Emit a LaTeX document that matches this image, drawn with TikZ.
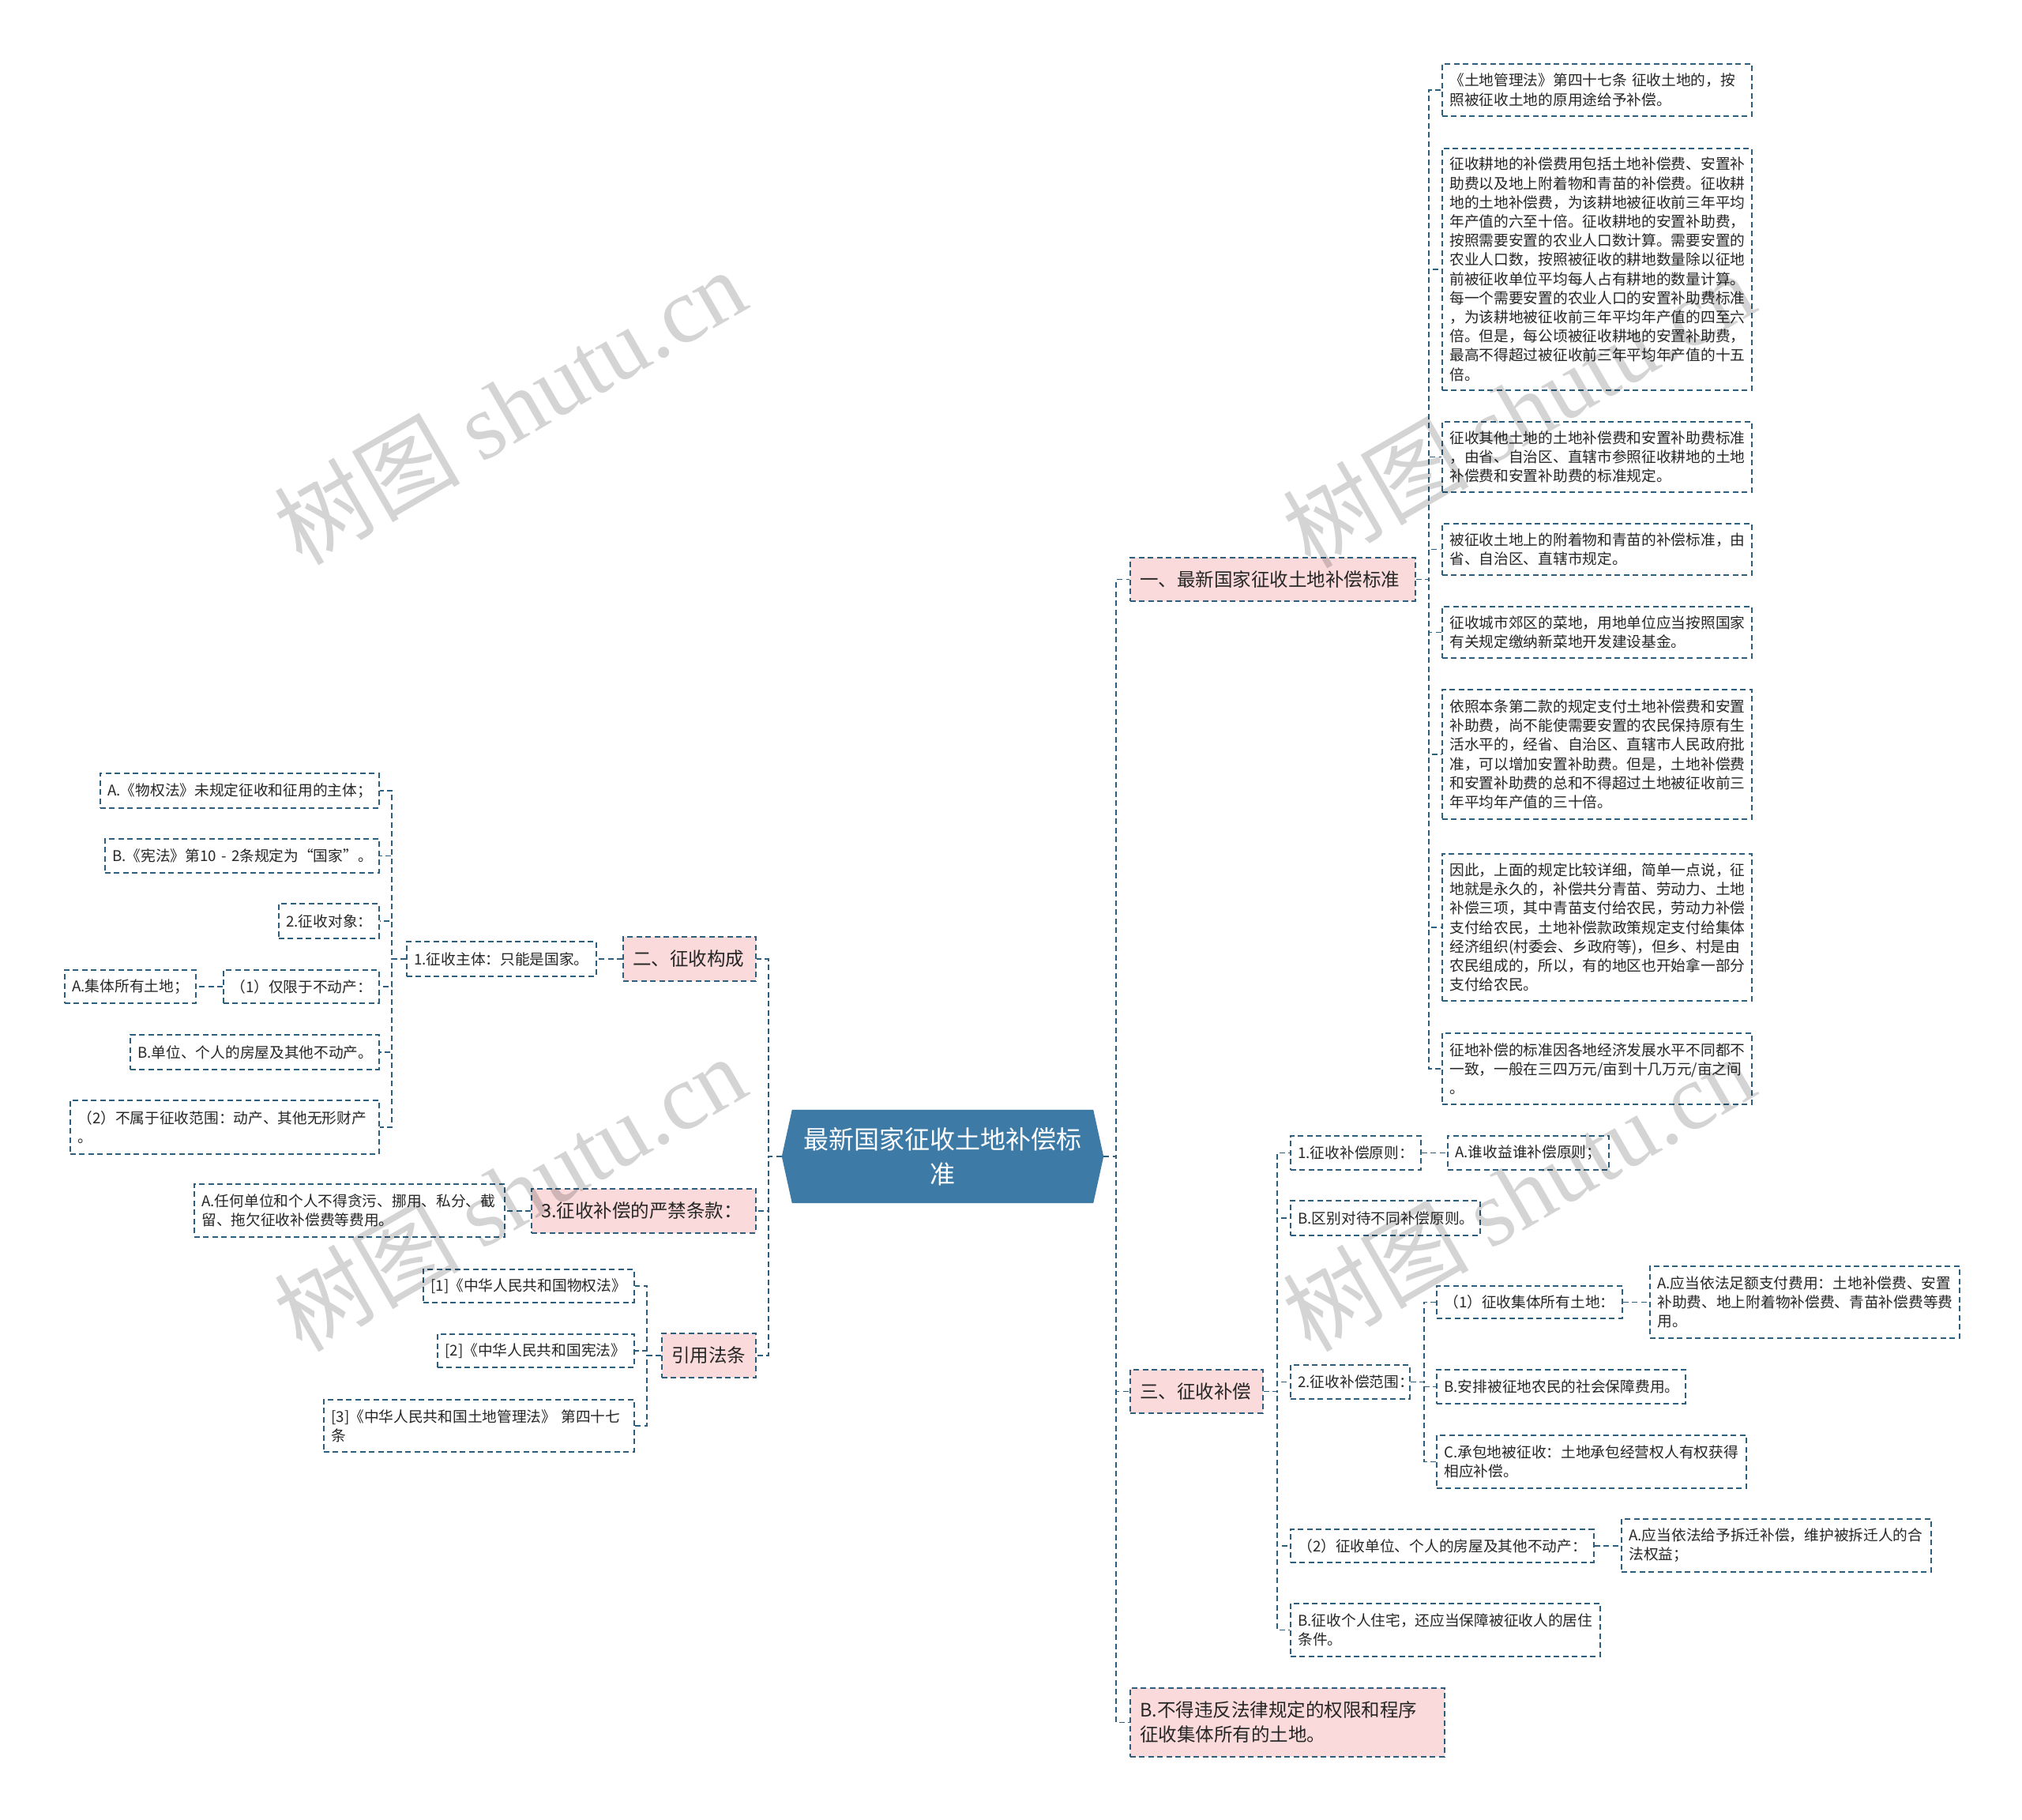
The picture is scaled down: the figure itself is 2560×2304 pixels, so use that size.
\documentclass[tikz,border=0pt]{standalone}
\usepackage{fontspec}
\setmainfont{Noto Sans CJK SC}
\newfontfamily\wmcjk{Noto Sans CJK SC}
\newfontfamily\wmlat{Liberation Serif}
\usetikzlibrary{backgrounds}
\definecolor{linec}{RGB}{46,94,125}
\definecolor{pinkc}{RGB}{250,218,218}
\definecolor{rootc}{RGB}{61,123,166}
\tikzset{
  conn/.style={draw=linec, line width=1.8pt, dash pattern=on 7pt off 4.5pt},
  leaf/.style={draw=linec, line width=1.8pt, dash pattern=on 7pt off 4.5pt, fill=white,
    anchor=north west, align=left, inner xsep=9.5pt, inner ysep=2pt,
    font=\fontsize{18.7}{24.2}\selectfont, text=black!85},
  pinkbox/.style={leaf, fill=pinkc, inner xsep=12.5pt, font=\fontsize{23.5}{31}\selectfont},
  wm/.style={opacity=0.17, rotate=30, anchor=center, inner sep=0pt},
}
\begin{document}
\begin{tikzpicture}[x=1pt,y=-1pt]
\useasboundingbox (0,0) rectangle (2560,2304);
\begin{scope}[on background layer]
\fill[white] (0,0) rectangle (2560,2304);
\end{scope}

% root
\node[font=\fontsize{32}{43.5}\selectfont, text=white, align=center, minimum width=407pt, minimum height=118pt, inner sep=0pt] (root) at (1193.5,1464) {最新国家征收土地补偿标\\准};
\begin{scope}[on background layer]
\fill[rootc] (root.west) -- ([xshift=13pt]root.north west) -- ([xshift=-13pt]root.north east) -- (root.east) -- ([xshift=-13pt]root.south east) -- ([xshift=13pt]root.south west) -- cycle;
\end{scope}

% ---------- right: branch one ----------
\node[pinkbox, text width=336pt, minimum height=55pt] (n1) at (1430,705) {一、最新国家征收土地补偿标准};
\node[leaf, text width=373pt, minimum height=66pt] (c1) at (1825,80) {《土地管理法》第四十七条~征收土地的，按\\照被征收土地的原用途给予补偿。};
\node[leaf, text width=373pt, minimum height=306pt] (c2) at (1825,187) {征收耕地的补偿费用包括土地补偿费、安置补\\助费以及地上附着物和青苗的补偿费。征收耕\\地的土地补偿费，为该耕地被征收前三年平均\\年产值的六至十倍。征收耕地的安置补助费，\\按照需要安置的农业人口数计算。需要安置的\\农业人口数，按照被征收的耕地数量除以征地\\前被征收单位平均每人占有耕地的数量计算。\\每一个需要安置的农业人口的安置补助费标准\\，为该耕地被征收前三年平均年产值的四至六\\倍。但是，每公顷被征收耕地的安置补助费，\\最高不得超过被征收前三年平均年产值的十五\\倍。};
\node[leaf, text width=373pt, minimum height=89pt] (c3) at (1825,533) {征收其他土地的土地补偿费和安置补助费标准\\，由省、自治区、直辖市参照征收耕地的土地\\补偿费和安置补助费的标准规定。};
\node[leaf, text width=373pt, minimum height=65pt] (c4) at (1825,662) {被征收土地上的附着物和青苗的补偿标准，由\\省、自治区、直辖市规定。};
\node[leaf, text width=373pt, minimum height=65pt] (c5) at (1825,767) {征收城市郊区的菜地，用地单位应当按照国家\\有关规定缴纳新菜地开发建设基金。};
\node[leaf, text width=373pt, minimum height=164pt] (c6) at (1825,872) {依照本条第二款的规定支付土地补偿费和安置\\补助费，尚不能使需要安置的农民保持原有生\\活水平的，经省、自治区、直辖市人民政府批\\准，可以增加安置补助费。但是，土地补偿费\\和安置补助费的总和不得超过土地被征收前三\\年平均年产值的三十倍。};
\node[leaf, text width=373pt, minimum height=186pt] (c7) at (1825,1080) {因此，上面的规定比较详细，简单一点说，征\\地就是永久的，补偿共分青苗、劳动力、土地\\补偿三项，其中青苗支付给农民，劳动力补偿\\支付给农民，土地补偿款政策规定支付给集体\\经济组织(村委会、乡政府等)，但乡、村是由\\农民组成的，所以，有的地区也开始拿一部分\\支付给农民。};
\node[leaf, text width=373pt, minimum height=90pt] (c8) at (1825,1307) {征地补偿的标准因各地经济发展水平不同都不\\一致，一般在三四万元/亩到十几万元/亩之间\\。};

% ---------- right: branch three ----------
\node[pinkbox, text width=143pt, minimum height=55pt] (n3) at (1430,1733) {三、征收补偿};
\node[leaf, text width=146pt, minimum height=43pt] (d1) at (1633,1437) {1.征收补偿原则：};
\node[leaf, text width=185pt, minimum height=43pt] (d1a) at (1832,1437) {A.谁收益谁补偿原则；};
\node[leaf, text width=221pt, minimum height=44pt] (d2) at (1633,1519) {B.区别对待不同补偿原则。};
\node[leaf, text width=132pt, minimum height=43pt] (d3) at (1633,1727) {2.征收补偿范围：};
\node[leaf, text width=216pt, minimum height=41pt] (d3a) at (1818,1627) {（1）征收集体所有土地：};
\node[leaf, text width=373pt, minimum height=91pt] (d3a1) at (2088,1602) {A.应当依法足额支付费用：土地补偿费、安置\\补助费、地上附着物补偿费、青苗补偿费等费\\用。};
\node[leaf, text width=296pt, minimum height=43pt] (d3b) at (1818,1733) {B.安排被征地农民的社会保障费用。};
\node[leaf, text width=373pt, minimum height=67pt] (d3c) at (1818,1816) {C.承包地被征收：土地承包经营权人有权获得\\相应补偿。};
\node[leaf, text width=365pt, minimum height=42pt] (d4) at (1633,1935) {（2）征收单位、个人的房屋及其他不动产：};
\node[leaf, text width=373pt, minimum height=67pt] (d4a) at (2052,1922) {A.应当依法给予拆迁补偿，维护被拆迁人的合\\法权益；};
\node[leaf, text width=373pt, minimum height=67pt] (d5) at (1633,2029) {B.征收个人住宅，还应当保障被征收人的居住\\条件。};

\node[pinkbox, text width=373pt, minimum height=87pt] (nB) at (1430,2136) {B.不得违反法律规定的权限和程序\\征收集体所有的土地。};

% ---------- left: branch two ----------
\node[pinkbox, text width=143pt, minimum height=56pt] (n2) at (788,1185) {二、征收构成};
\node[leaf, text width=221pt, minimum height=44pt] (e1) at (514,1191) {1.征收主体：只能是国家。};
\node[leaf, text width=334pt, minimum height=44pt] (f1) at (126,978) {A.《物权法》未规定征收和征用的主体；};
\node[leaf, text width=328pt, minimum height=43pt] (f2) at (132,1061) {\mbox{B.《宪法》第10 - 2条规定为“国家”。}};
\node[leaf, text width=108pt, minimum height=44pt] (f3) at (352,1143) {2.征收对象：};
\node[leaf, text width=178pt, minimum height=42pt] (f4) at (282,1227) {（1）仅限于不动产：};
\node[leaf, text width=147pt, minimum height=42pt] (f4a) at (81,1227) {A.集体所有土地；};
\node[leaf, text width=296pt, minimum height=44pt] (f5) at (164,1309) {B.单位、个人的房屋及其他不动产。};
\node[leaf, text width=372pt, minimum height=68pt] (f6) at (88,1392) {（2）不属于征收范围：动产、其他无形财产\\。};

% ---------- left: 3 and references ----------
\node[pinkbox, text width=259pt, minimum height=56pt] (n4) at (672,1504) {3.征收补偿的严禁条款：};
\node[leaf, text width=374pt, minimum height=67pt] (g1) at (245,1498) {A.任何单位和个人不得贪污、挪用、私分、截\\留、拖欠征收补偿费等费用。};
\node[pinkbox, text width=94pt, minimum height=56pt] (n5) at (837,1687) {引用法条};
\node[leaf, text width=248pt, minimum height=42pt] (h1) at (535,1606) {[1]《中华人民共和国物权法》};
\node[leaf, text width=230pt, minimum height=42pt] (h2) at (553,1688) {[2]《中华人民共和国宪法》};
\node[leaf, text width=374pt, minimum height=66pt] (h3) at (409,1771) {[3]《中华人民共和国土地管理法》~第四十七\\条};

% ---------- connectors ----------
\foreach \t in {n1,n3,nB} \draw[conn] (root.east) -- ++(16,0) |- (\t.west);
\foreach \t in {n2,n4,n5} \draw[conn] (root.west) -- ++(-17,0) |- (\t.east);
\foreach \t in {c1,c2,c3,c4,c5,c6,c7,c8} \draw[conn] (n1.east) -- ++(16,0) |- (\t.west);
\foreach \t in {d1,d2,d3,d4,d5} \draw[conn] (n3.east) -- ++(17,0) |- (\t.west);
\foreach \t in {d3a,d3b,d3c} \draw[conn] (d3.east) -- ++(17,0) |- (\t.west);
\draw[conn] (d1.east) -- (d1.east -| d1a.west);
\draw[conn] (d3a.east) -- (d3a.east -| d3a1.west);
\draw[conn] (d4.east) -- (d4.east -| d4a.west);
\draw[conn] (n2.west) -- (n2.west -| e1.east);
\foreach \t in {f1,f2,f3,f4,f5,f6} \draw[conn] (e1.west) -- ++(-18,0) |- (\t.east);
\draw[conn] (f4.west) -- (f4.west -| f4a.east);
\draw[conn] (n4.west) -- (n4.west -| g1.east);
\foreach \t in {h1,h2,h3} \draw[conn] (n5.west) -- ++(-18,0) |- (\t.east);

% ---------- watermarks ----------
\foreach \p/\n in {{(645,514)}/w1,{(645,1510)}/w2,{(1922,518)}/w3,{(1922,1510)}/w4}
  \node[wm] (\n) at \p {\fontsize{118}{120}\selectfont\wmcjk 树图\ \wmlat shutu.cn};
\end{tikzpicture}
\end{document}
